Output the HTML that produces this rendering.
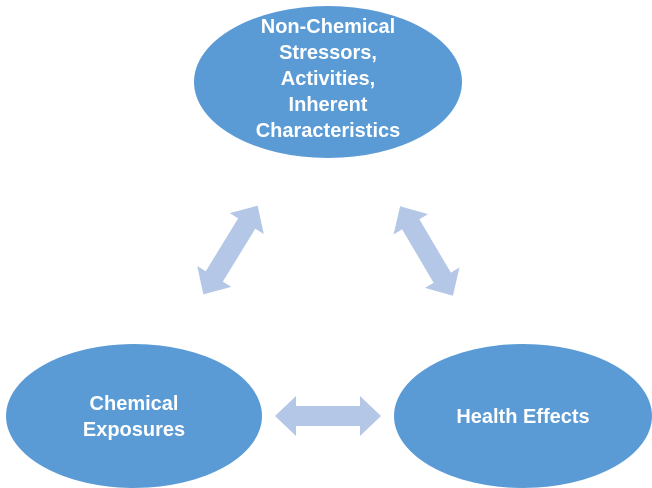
<!DOCTYPE html>
<html><head><style>
body{margin:0;background:#fff;}
svg{display:block;}
text{font-family:"Liberation Sans",sans-serif;font-weight:bold;font-size:20px;fill:#fff;text-anchor:middle;}
</style></head><body>
<svg width="652" height="488" viewBox="0 0 652 488">
<ellipse cx="328" cy="82" rx="134" ry="76" fill="#5B9BD5"/>
<ellipse cx="134" cy="416" rx="128" ry="72" fill="#5B9BD5"/>
<ellipse cx="523" cy="416" rx="129" ry="72" fill="#5B9BD5"/>
<g fill="#B4C7E7">
<polygon transform="translate(328,416)" points="-53,0 -32,-20 -32,-10 32,-10 32,-20 53,0 32,20 32,10 -32,10 -32,20"/>
<polygon transform="translate(230.5,250) rotate(121.5)" points="-52,0 -31,-20 -31,-10 31,-10 31,-20 52,0 31,20 31,10 -31,10 -31,20"/>
<polygon transform="translate(426.5,251) rotate(59.5)" points="-52,0 -31,-20 -31,-10 31,-10 31,-20 52,0 31,20 31,10 -31,10 -31,20"/>
</g>
<text x="328" y="33">Non-Chemical</text>
<text x="328" y="59">Stressors,</text>
<text x="328" y="85">Activities,</text>
<text x="328" y="111">Inherent</text>
<text x="328" y="137">Characteristics</text>
<text x="134" y="410">Chemical</text>
<text x="134" y="436">Exposures</text>
<text x="523" y="423">Health Effects</text>
</svg>
</body></html>
